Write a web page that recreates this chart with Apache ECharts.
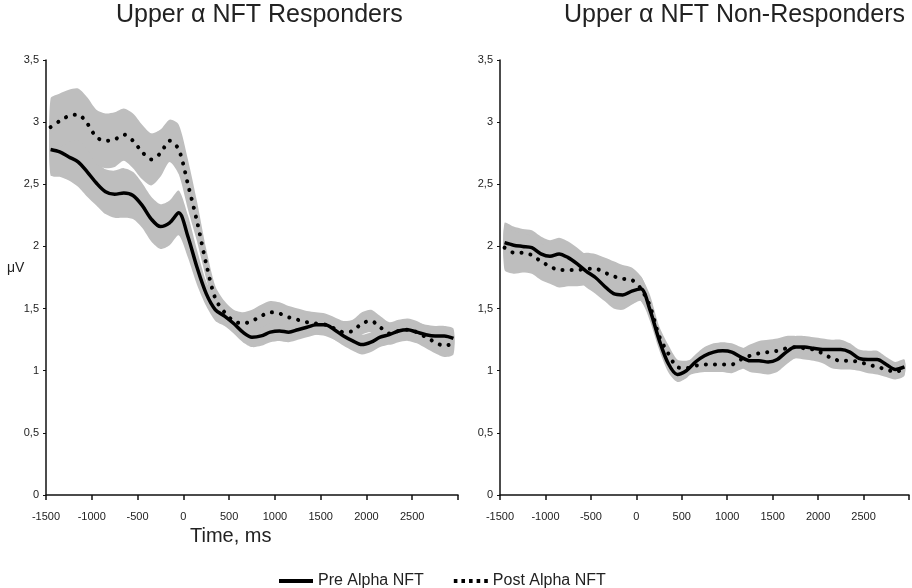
<!DOCTYPE html>
<html>
<head>
<meta charset="utf-8">
<script src="https://cdn.jsdelivr.net/npm/echarts@6/dist/echarts.min.js"></script>
<style>
  html, body { margin: 0; padding: 0; background: #fff; }
  #chart { width: 912px; height: 588px; }
</style>
</head>
<body>
<div id="chart"></div>
<script>
// time points (ms)
var times = [-1450,-1350,-1250,-1150,-1050,-950,-850,-750,-650,-550,-450,-350,-250,-150,-50,
  50,150,250,350,450,550,650,750,850,950,1050,1150,1250,1350,1450,1550,1650,1750,1850,1950,
  2050,2150,2250,2350,2450,2550,2650,2750,2850,2950];

// Responders (µV)
var respPre = [2.78,2.76,2.72,2.68,2.60,2.51,2.44,2.42,2.43,2.41,2.33,2.22,2.16,2.19,2.27,
  2.08,1.83,1.62,1.49,1.44,1.38,1.31,1.27,1.28,1.31,1.32,1.31,1.33,1.35,1.37,1.37,1.33,1.28,1.24,1.21,
  1.23,1.27,1.29,1.32,1.33,1.31,1.29,1.28,1.28,1.26];
var respPreSE = [0.21,0.2,0.19,0.2,0.2,0.18,0.18,0.19,0.2,0.19,0.18,0.18,0.18,0.18,0.18,
  0.17,0.14,0.1,0.09,0.08,0.08,0.08,0.08,0.08,0.08,0.08,0.08,0.08,0.08,0.08,0.08,0.08,0.08,0.08,0.08,
  0.08,0.08,0.08,0.08,0.08,0.08,0.08,0.08,0.08,0.08];
var respPost = [2.96,3.01,3.05,3.06,2.99,2.88,2.85,2.86,2.90,2.85,2.76,2.70,2.75,2.85,2.78,
  2.50,2.20,1.86,1.58,1.47,1.40,1.38,1.40,1.44,1.47,1.46,1.43,1.41,1.39,1.38,1.37,1.34,1.31,1.32,1.38,
  1.40,1.35,1.30,1.32,1.33,1.31,1.27,1.23,1.20,1.22];
var respPostSE = [0.23,0.22,0.21,0.21,0.21,0.22,0.22,0.22,0.21,0.22,0.22,0.21,0.19,0.17,0.2,
  0.2,0.16,0.12,0.1,0.09,0.09,0.09,0.09,0.09,0.09,0.09,0.09,0.09,0.09,0.09,0.09,0.09,0.09,0.09,0.09,
  0.09,0.09,0.09,0.09,0.09,0.09,0.09,0.09,0.09,0.09];

// Non-Responders (µV)
var nonPre = [2.03,2.01,2.00,1.99,1.94,1.92,1.94,1.91,1.86,1.80,1.75,1.68,1.62,1.61,1.64,
  1.66,1.49,1.25,1.06,0.97,1.00,1.07,1.12,1.15,1.16,1.15,1.11,1.08,1.08,1.07,1.09,1.15,1.19,1.19,1.18,
  1.17,1.17,1.17,1.15,1.10,1.09,1.09,1.05,1.01,1.03];
var nonPreSE = [0.16,0.15,0.14,0.14,0.14,0.13,0.13,0.13,0.13,0.13,0.13,0.12,0.12,0.12,0.11,
  0.1,0.09,0.08,0.07,0.06,0.06,0.06,0.07,0.07,0.07,0.07,0.08,0.09,0.1,0.1,0.1,0.1,0.09,0.09,0.09,
  0.09,0.08,0.08,0.07,0.07,0.07,0.07,0.06,0.06,0.06];
var nonPost = [1.99,1.95,1.95,1.93,1.88,1.84,1.81,1.81,1.81,1.82,1.82,1.79,1.76,1.74,1.73,
  1.66,1.52,1.28,1.14,1.03,1.02,1.04,1.05,1.05,1.05,1.05,1.09,1.12,1.14,1.15,1.16,1.18,1.19,1.18,1.17,
  1.14,1.10,1.08,1.08,1.07,1.05,1.03,1.01,0.99,1.02];
var nonPostSE = [0.18,0.17,0.16,0.15,0.15,0.14,0.14,0.13,0.13,0.13,0.12,0.12,0.12,0.11,0.1,
  0.1,0.09,0.08,0.07,0.06,0.06,0.06,0.06,0.06,0.06,0.07,0.08,0.09,0.1,0.1,0.1,0.1,0.09,0.09,0.09,
  0.08,0.08,0.07,0.07,0.07,0.07,0.06,0.06,0.06,0.06];

var xTicks = [-1500,-1000,-500,0,500,1000,1500,2000,2500];
var yTicks = [0,0.5,1,1.5,2,2.5,3,3.5];

var FONT = 'Liberation Sans, Arial, sans-serif';
var BAND = '#bebebe';

function pairs(vals) {
  return times.map(function (t, i) { return [t, vals[i]]; });
}

// shaded ± band, drawn as one polygon through the axis scales
function band(idx, vals, se) {
  return {
    type: 'custom', xAxisIndex: idx, yAxisIndex: idx, silent: true, z: 1,
    data: times.map(function (t, i) { return [t, vals[i] - se[i], vals[i] + se[i]]; }),
    encode: { x: 0, y: [1, 2] },
    renderItem: function (params, api) {
      if (params.dataIndex !== 0) return null;
      var up = [], lo = [];
      for (var i = 0; i < times.length; i++) {
        up.push(api.coord([times[i], vals[i] + se[i]]));
        lo.unshift(api.coord([times[i], vals[i] - se[i]]));
      }
      return {
        type: 'polygon',
        shape: { points: up.concat(lo), smooth: 0.25 },
        style: { fill: BAND }
      };
    }
  };
}

function solid(idx, vals) {
  return {
    type: 'line', name: 'Pre Alpha NFT', xAxisIndex: idx, yAxisIndex: idx, z: 3,
    data: pairs(vals), symbol: 'none', smooth: 0.3,
    lineStyle: { color: '#000', width: 3.5 }, itemStyle: { color: '#000' }
  };
}

function dotted(idx, vals) {
  return {
    type: 'line', name: 'Post Alpha NFT', xAxisIndex: idx, yAxisIndex: idx, z: 3,
    data: pairs(vals), symbol: 'none', smooth: 0.3,
    lineStyle: { color: '#000', width: 4, type: [0.1, 9], cap: 'round' },
    itemStyle: { color: '#000' }
  };
}

function xAxis(idx) {
  return {
    type: 'value', gridIndex: idx, min: -1500, max: 3000, interval: 500,
    axisLine: { show: true, onZero: false, lineStyle: { color: '#111', width: 1.5 } },
    axisTick: { show: true, length: 5, lineStyle: { color: '#111', width: 1.5 } },
    splitLine: { show: false },
    axisLabel: {
      color: '#222', fontSize: 11, fontFamily: FONT, margin: 16,
      formatter: function (v) { return xTicks.indexOf(v) >= 0 ? String(v) : ''; }
    }
  };
}

function yAxis(idx) {
  return {
    type: 'value', gridIndex: idx, min: 0, max: 3.5, interval: 0.5,
    axisLine: { show: true, onZero: false, lineStyle: { color: '#111', width: 1.5 } },
    axisTick: { show: true, length: 3, lineStyle: { color: '#111' } },
    splitLine: { show: false },
    axisLabel: {
      color: '#222', fontSize: 11, fontFamily: FONT, margin: 7,
      formatter: function (v) { return yTicks.indexOf(v) >= 0 ? String(v).replace('.', ',') : ''; }
    }
  };
}

var chart = echarts.init(document.getElementById('chart'), null, { renderer: 'canvas' });

var series = [
  band(0, respPre, respPreSE),
  band(0, respPost, respPostSE),
  band(1, nonPre, nonPreSE),
  band(1, nonPost, nonPostSE),
  solid(0, respPre), dotted(0, respPost),
  solid(1, nonPre), dotted(1, nonPost)
];

chart.setOption({
  animation: false,
  backgroundColor: '#fff',
  grid: [
    { left: 46, top: 60, width: 412, height: 435 },
    { left: 500, top: 60, width: 412, height: 435 }
  ],
  xAxis: [xAxis(0), xAxis(1)],
  yAxis: [yAxis(0), yAxis(1)],
  legend: {
    data: [
      { name: 'Pre Alpha NFT', icon: 'path://M0,0H34V4H0Z' },
      { name: 'Post Alpha NFT',
        icon: 'path://M0,0h3.6v4h-3.6z M7.6,0h3.6v4h-3.6z M15.2,0h3.6v4h-3.6z M22.8,0h3.6v4h-3.6z M30.4,0h3.6v4h-3.6z' }
    ],
    left: 274, top: 568, itemWidth: 34, itemHeight: 4, itemGap: 30,
    textStyle: { fontSize: 16, fontFamily: FONT, color: '#222' }
  },
  graphic: [
    { type: 'text', left: 116, top: 3,
      style: { text: 'Upper \u03b1 NFT Responders', font: '25px ' + FONT, fill: '#222' } },
    { type: 'text', left: 564, top: 3,
      style: { text: 'Upper \u03b1 NFT Non-Responders', font: '25px ' + FONT, fill: '#222' } },
    { type: 'text', left: 7, top: 261,
      style: { text: '\u03bcV', font: '14px ' + FONT, fill: '#222' } },
    { type: 'text', left: 190, top: 526,
      style: { text: 'Time, ms', font: '20px ' + FONT, fill: '#222' } }
  ],
  series: series
});
</script>
</body>
</html>
